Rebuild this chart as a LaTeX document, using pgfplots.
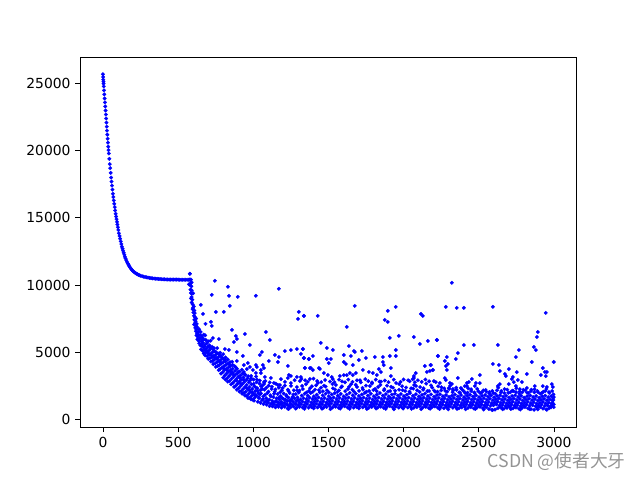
\documentclass[border=0pt]{standalone}
\usepackage{pgfplots}
\pgfplotsset{compat=1.18}
\usepackage{fontspec}
\setmainfont{DejaVu Sans}
\newfontfamily\cjk{Noto Sans CJK SC}
\definecolor{mplblue}{RGB}{0,0,255}
\begin{document}
\begin{tikzpicture}
\path[use as bounding box] (-60pt,-39.6pt) rectangle (420pt,320.4pt);
\begin{axis}[
  at={(0pt,0pt)}, anchor=south west,
  scale only axis, width=372pt, height=277.2pt,
  xmin=-153, xmax=3147, ymin=-597, ymax=26940,
  xtick={0,500,1000,1500,2000,2500,3000},
  ytick={0,5000,10000,15000,20000,25000},
  xtick pos=bottom, ytick pos=left, tick align=outside,
  major tick length=3.6pt,
  tick style={black,line width=0.6pt},
  axis line style={black,line width=0.6pt},
  scaled ticks=false,
  /pgf/number format/assume math mode=true,
  /pgf/number format/1000 sep={},
  tick label style={font=\fontsize{10.4}{12}\selectfont},
  xticklabel style={yshift=-0.5pt},
  clip=true,
]
\addplot[only marks, color=mplblue, mark=*, mark size=1.36pt, mark options={draw=mplblue,fill=mplblue,line width=0.2pt}] coordinates {
% decay curve
(0,25700)(1,25500)(2,25300)(3,25150)(4,25000)(5,24800)(7,24500)(9,24200)(11,23900)(13,23600)(15,23300)(17,23000)(19,22700)(21,22400)(23,22100)(25,21800)(27,21500)(29,21200)(31,20900)(33,20600)(35,20300)(37,20050)(39,19800)(42,19400)(45,19000)(48,18700)(51,18350)(54,18000)(57,17700)(60,17400)(63,17100)(66,16800)(69,16550)(72,16300)(75,16050)(78,15800)(81,15550)(84,15300)(87,15100)(90,14900)(93,14700)(96,14500)(99,14300)(102,14100)(106,13850)(110,13650)(114,13450)(118,13250)(122,13050)(126,12850)(130,12700)(134,12550)(138,12400)(142,12250)(146,12100)(150,11980)(155,11850)(160,11720)(165,11600)(170,11500)(175,11400)(180,11310)(185,11230)(190,11160)(195,11090)(200,11030)(207,10960)(214,10900)(221,10850)(228,10800)(235,10760)(242,10720)(250,10690)(260,10650)(270,10620)(280,10590)(290,10570)(300,10550)(310,10530)(320,10510)(330,10490)(340,10480)(350,10470)(360,10460)(370,10450)(380,10440)(390,10430)(400,10420)(410,10420)(420,10410)(430,10410)(440,10400)(450,10400)(460,10400)(470,10400)(480,10400)(490,10400)(500,10400)(510,10390)(520,10390)(530,10390)(540,10390)(550,10390)(560,10390)(570,10390)(575,10400)(580,10400)(585,10400)
% start of the descent
(578,10834)(572,10050)(580,10000)(585,10150)(590,10200)(588,9900)(582,9650)(590,9600)(585,9400)(592,9350)(600,9380)(590,9100)(585,9000)(595,8900)(590,8700)(597,8550)(600,8300)(604,8400)(596,8200)(608,8100)(602,7950)(610,7900)(605,7700)(612,7600)(608,7400)(616,7300)(620,7500)(612,7150)(606,7050)(618,6950)(624,7100)(614,6800)(622,6700)(628,6850)(618,6550)(626,6400)(632,6500)(622,6250)(630,6150)(636,6300)(628,5950)(636,5850)(644,6050)(652,6250)(640,6700)(650,6500)(660,6100)(670,6300)(680,6250)(655,5800)(665,5700)(672,5950)(684,5900)(640,5650)(648,5500)(658,5450)(668,5350)(678,5550)(690,5650)(700,5800)(652,5200)(662,5100)(674,5150)(686,5250)(696,5400)(708,5500)(716,5850)(670,4900)(682,4950)(692,5050)(704,5100)(715,5250)(726,5400)(738,5300)(680,4750)(694,4700)(706,4800)(718,4900)(730,5000)(745,5050)(760,5300)(700,4500)(712,4550)(724,4600)(736,4700)(750,4800)(765,4900)(780,4950)(718,4300)(730,4350)(742,4450)(756,4550)(770,4650)(785,4700)(800,4850)(734,4100)(746,4150)(758,4250)(772,4350)(786,4450)(800,4500)(815,4600)(750,3900)(762,3950)(775,4050)(788,4150)(802,4250)(816,4300)(830,4450)(770,3650)(780,3750)(792,3850)(805,3950)(818,4050)(832,4150)(845,4250)(785,3400)(796,3500)(808,3650)(820,3750)(834,3850)(848,3950)(862,4050)(800,3100)(810,3250)(822,3400)(835,3550)(848,3650)(862,3750)(876,3950)(815,2950)(826,3050)(838,3200)(850,3350)(864,3450)(878,3600)(892,3750)(830,2800)(842,2850)(855,3000)(868,3150)(880,3300)(894,3400)(908,3550)(852,2600)(864,2700)(876,2850)(888,3000)(900,3150)(914,3250)(928,3400)(872,2400)(884,2500)(896,2650)(908,2800)(920,2950)(934,3100)(948,3300)(890,2200)(902,2300)(914,2450)(926,2600)(938,2750)(952,2900)(966,3200)(908,2050)(920,2100)(932,2250)(944,2400)(956,2550)(970,2750)(985,3050)(926,1900)(938,1950)(950,2050)(962,2250)(974,2400)(988,2600)(1002,2950)(945,1750)(957,1750)(969,1900)(981,2050)(993,2250)(1007,2450)(1022,2750)(965,1580)(977,1600)(989,1750)(1001,1900)(1013,2100)(1027,2300)(1042,2650)(985,1480)(997,1460)(1009,1600)(1021,1750)(1033,1950)(1047,2150)(1060,2500)
% irregular fill of the descent
(643,5980)(659,5620)(676,5410)(663,5930)(688,5120)(699,4930)(711,5320)(722,4760)(733,5180)(741,4620)(753,4980)(761,4480)(774,4820)(783,4240)(791,4610)(803,3780)(812,4420)(827,3630)(841,4080)(853,3520)(859,4280)(871,3280)(883,3870)(889,2880)(899,3510)(911,3090)(917,2640)(924,3680)(936,2930)(943,3330)(955,2330)(961,3040)(972,2190)(978,2880)(986,3220)(994,1980)(1003,2640)(1011,1830)(1019,3180)(1028,2120)(1037,1640)(1043,2880)(1051,1920)(1059,2260)(1064,1490)(1072,2620)(1079,1820)(1087,2340)(1093,1360)(1101,2060)(1109,2740)(1117,1690)(1124,2420)(1131,1210)(1139,1900)(1147,2220)(1155,1340)(1163,2560)(1171,1620)(1179,2010)(1187,1180)(1195,2330)(1203,1490)(1211,2780)(1219,1790)(1227,1070)(1235,2090)(1243,1380)(1251,2480)(1259,1560)(1267,1840)(1275,2910)(1283,1130)(1291,2140)(1299,1430)
% dense band, 1000 to 3000
(1005,1380)(1012,1750)(1018,2350)(1024,2950)(1030,1300)(1038,1550)(1044,1850)(1052,2450)(1048,1220)(1058,1420)(1066,1700)(1074,2200)(1080,2850)(1068,1130)(1078,1300)(1086,1560)(1094,1950)(1102,2500)(1088,1080)(1098,1230)(1106,1450)(1114,1780)(1122,2250)(1108,980)(1118,1150)(1126,1370)(1134,1650)(1142,2050)(1150,2650)(1128,960)(1138,1100)(1146,1300)(1154,1550)(1162,1880)(1170,2350)(1148,880)(1158,1050)(1166,1240)(1174,1480)(1182,1720)(1190,2150)(1168,920)(1178,1090)(1186,1310)(1194,1560)(1202,1920)(1210,2500)(1188,860)(1198,1020)(1206,1220)(1214,1450)(1222,1700)(1230,2200)(1208,930)(1218,1120)(1226,1340)(1234,1600)(1242,1950)(1250,2700)(1228,800)(1238,1000)(1246,1200)(1254,1430)(1262,1680)(1270,2150)(1248,890)(1258,1080)(1266,1290)(1274,1550)(1282,1870)(1290,2400)(1268,950)(1278,1150)(1286,1360)(1294,1620)(1302,1980)(1310,2850)(1288,850)(1298,1040)(1306,1240)(1314,1480)(1322,1760)(1330,2250)(1308,920)(1318,1110)(1326,1320)(1334,1570)(1342,1900)(1350,2600)(1328,870)(1338,1060)(1346,1260)(1354,1500)(1362,1750)(1370,2100)(1348,940)(1358,1130)(1366,1350)(1374,1600)(1382,1950)(1390,2450)(1368,850)(1378,1040)(1386,1250)(1394,1490)(1402,1700)(1410,2200)(1388,900)(1398,1100)(1406,1310)(1414,1540)(1422,1820)(1430,2700)(1408,960)(1418,1150)(1426,1370)(1434,1620)(1442,2000)(1450,2350)(1428,880)(1438,1070)(1446,1270)(1454,1510)(1462,1780)(1470,2500)(1448,930)(1458,1120)(1466,1330)(1474,1580)(1482,1900)(1490,2150)(1468,860)(1478,1040)(1486,1240)(1494,1470)(1502,1720)(1510,2800)(1488,910)(1498,1110)(1506,1320)(1514,1560)(1522,1850)(1530,2300)(1508,980)(1518,1170)(1526,1380)(1534,1620)(1542,1950)(1550,2550)(1528,870)(1538,1060)(1546,1260)(1554,1500)(1562,1750)(1570,2150)(1548,930)(1558,1120)(1566,1330)(1574,1590)(1582,1880)(1590,2450)(1568,850)(1578,1040)(1586,1250)(1594,1480)(1602,1700)(1610,2750)(1588,910)(1598,1100)(1606,1310)(1614,1560)(1622,1830)(1630,2250)(1608,960)(1618,1150)(1626,1360)(1634,1610)(1642,1960)(1650,2600)(1628,870)(1638,1060)(1646,1270)(1654,1510)(1662,1780)(1670,2050)(1648,930)(1658,1130)(1666,1340)(1674,1590)(1682,1900)(1690,2400)(1668,860)(1678,1040)(1686,1240)(1694,1480)(1702,1730)(1710,2900)(1688,900)(1698,1100)(1706,1310)(1714,1550)(1722,1840)(1730,2200)(1708,970)(1718,1160)(1726,1370)(1734,1620)(1742,1960)(1750,2500)(1728,880)(1738,1070)(1746,1270)(1754,1510)(1762,1760)(1770,2100)(1748,930)(1758,1120)(1766,1330)(1774,1580)(1782,1890)(1790,2650)(1768,850)(1778,1040)(1786,1240)(1794,1470)(1802,1710)(1810,2250)(1788,910)(1798,1100)(1806,1310)(1814,1560)(1822,1830)(1830,2400)(1808,960)(1818,1150)(1826,1370)(1834,1610)(1842,1950)(1850,2800)(1828,870)(1838,1060)(1846,1260)(1854,1500)(1862,1760)(1870,2150)(1848,930)(1858,1120)(1866,1330)(1874,1590)(1882,1880)(1890,2500)(1868,850)(1878,1040)(1886,1250)(1894,1480)(1902,1700)(1910,2100)(1888,910)(1898,1100)(1906,1310)(1914,1550)(1922,1840)(1930,2350)(1908,970)(1918,1160)(1926,1370)(1934,1620)(1942,1900)(1950,2700)(1928,880)(1938,1070)(1946,1270)(1954,1510)(1962,1760)(1970,2200)(1948,930)(1958,1120)(1966,1340)(1974,1590)(1982,1880)(1990,2450)(1968,860)(1978,1040)(1986,1250)(1994,1480)(2002,1720)(2010,2100)(1988,900)(1998,1100)(2006,1310)(2014,1560)(2022,1830)(2030,2900)(2008,950)(2018,1150)(2026,1360)(2034,1610)(2042,1940)(2050,2300)(2028,870)(2038,1060)(2046,1260)(2054,1500)(2062,1750)(2070,2550)(2048,920)(2058,1120)(2066,1330)(2074,1580)(2082,1860)(2090,2150)(2068,850)(2078,1030)(2086,1240)(2094,1470)(2102,1700)(2110,2400)(2088,900)(2098,1090)(2106,1300)(2114,1540)(2122,1810)(2130,2200)(2108,960)(2118,1150)(2126,1360)(2134,1600)(2142,1900)(2150,2650)(2128,870)(2138,1060)(2146,1260)(2154,1490)(2162,1730)(2170,2100)(2148,920)(2158,1110)(2166,1320)(2174,1570)(2182,1850)(2190,2350)(2168,830)(2178,1030)(2186,1230)(2194,1460)(2202,1680)(2210,2050)(2188,890)(2198,1080)(2206,1290)(2214,1530)(2222,1790)(2230,2450)(2208,950)(2218,1140)(2226,1350)(2234,1590)(2242,1860)(2250,2150)(2228,860)(2238,1050)(2246,1250)(2254,1480)(2262,1710)(2270,2300)(2248,910)(2258,1100)(2266,1310)(2274,1550)(2282,1800)(2290,2050)(2268,820)(2278,1020)(2286,1220)(2294,1440)(2302,1660)(2310,2500)(2288,880)(2298,1070)(2306,1280)(2314,1510)(2322,1760)(2330,2150)(2308,940)(2318,1130)(2326,1340)(2334,1580)(2342,1830)(2350,2350)(2328,850)(2338,1040)(2346,1240)(2354,1470)(2362,1700)(2370,2000)(2348,900)(2358,1090)(2366,1300)(2374,1540)(2382,1790)(2390,2200)(2368,810)(2378,1010)(2386,1210)(2394,1430)(2402,1650)(2410,1950)(2388,870)(2398,1060)(2406,1270)(2414,1500)(2422,1750)(2430,2300)(2408,930)(2418,1120)(2426,1330)(2434,1570)(2442,1820)(2450,2100)(2428,840)(2438,1030)(2446,1230)(2454,1460)(2462,1690)(2470,2000)(2448,890)(2458,1080)(2466,1290)(2474,1530)(2482,1780)(2490,2250)(2468,800)(2478,1000)(2486,1200)(2494,1420)(2502,1640)(2510,1950)(2488,860)(2498,1050)(2506,1260)(2514,1490)(2522,1740)(2530,2150)(2508,920)(2518,1110)(2526,1320)(2534,1560)(2542,1800)(2550,2050)(2528,830)(2538,1020)(2546,1220)(2554,1450)(2562,1680)(2570,1900)(2548,880)(2558,1070)(2566,1280)(2574,1520)(2582,1760)(2590,2100)(2568,760)(2578,990)(2586,1190)(2594,1410)(2602,1630)(2610,1900)(2588,700)(2598,1040)(2606,1250)(2614,1480)(2622,1730)(2630,2350)(2608,720)(2618,1100)(2626,1310)(2634,1550)(2642,1790)(2650,2100)(2628,820)(2638,1010)(2646,1210)(2654,1440)(2662,1670)(2670,1950)(2648,870)(2658,1060)(2666,1270)(2674,1510)(2682,1750)(2690,2200)(2668,790)(2678,980)(2686,1180)(2694,1400)(2702,1620)(2710,2000)(2688,850)(2698,1030)(2706,1240)(2714,1470)(2722,1720)(2730,2100)(2708,910)(2718,1090)(2726,1300)(2734,1540)(2742,1780)(2750,2300)(2728,810)(2738,1000)(2746,1200)(2754,1430)(2762,1660)(2770,1900)(2748,860)(2758,1050)(2766,1260)(2774,1500)(2782,1740)(2790,2000)(2768,780)(2778,970)(2786,1170)(2794,1390)(2802,1610)(2810,2150)(2788,840)(2798,1020)(2806,1230)(2814,1460)(2822,1710)(2830,1950)(2808,900)(2818,1080)(2826,1290)(2834,1530)(2842,1770)(2850,2200)(2828,800)(2838,990)(2846,1190)(2854,1420)(2862,1650)(2870,2000)(2848,750)(2858,1040)(2866,1250)(2874,1490)(2882,1730)(2890,2100)(2868,700)(2878,960)(2886,1160)(2894,1380)(2902,1600)(2910,1900)(2888,830)(2898,1010)(2906,1220)(2914,1450)(2922,1700)(2930,2050)(2908,890)(2918,1070)(2926,1280)(2934,1520)(2942,1760)(2950,2250)(2928,790)(2938,980)(2946,1180)(2954,1410)(2962,1640)(2970,1950)(2948,740)(2958,1030)(2966,1240)(2974,1480)(2982,1720)(2988,2100)(2968,820)(2976,950)(2984,1150)(2990,1370)(2994,1590)(2997,1850)(2980,880)(2988,1000)(2992,1200)(2996,1430)(2999,1650)(2999,1100)(2999,900)
% scattered points above the band
(578,10834)(744,10311)(831,9863)(1170,9713)(724,9265)(838,9191)(897,9116)(1017,9191)(651,8518)(844,8444)(665,7846)(751,7995)(804,7995)(1303,7995)(1297,7472)(1337,7697)(718,7249)(724,6950)(682,7099)(858,6651)(884,6203)(891,5979)(944,6352)(871,5754)(1084,6501)(1110,5904)(977,5530)(771,5979)(731,6053)(811,5232)(838,5157)(891,5007)(931,4709)(1057,5007)(1044,4783)(1144,4783)(1170,4634)(1210,5082)(1250,5157)(1290,5232)(1330,5232)(1317,4858)(1337,4559)(1370,4484)(1104,4335)(1164,4261)(964,4186)(891,4335)(1230,3962)(1343,3812)(1376,3812)(937,4036)(977,3887)(1017,4036)(1024,3887)(1064,4036)(1071,3812)(1051,3663)(997,3663)(957,3737)(937,3513)(1017,3439)(1051,3439)(1237,3289)(1250,3215)(1290,3140)(1317,3140)(1376,2990)(1184,2990)(1230,3065)(1117,3065)(1077,3140)(1071,2766)(1137,2692)(1177,2542)
(1336,7696)(1429,7696)(1675,8444)(1895,8070)(1948,8369)(1875,7398)(1895,7248)(2115,7846)(2128,7696)(1622,6875)(1908,6053)(1968,6203)(2068,6128)(2161,5829)(2108,5605)(2221,5904)(1449,5680)(1489,5306)(1529,5157)(1330,5232)(1636,5456)(1669,5082)(1676,5007)(1722,5082)(1602,4783)(1649,4708)(1809,4634)(1862,4634)(1908,4708)(1948,5157)(1948,4708)(2228,4708)(1336,4559)(1369,4484)(1396,4708)(1489,4484)(1516,4484)(1502,4186)(1602,4261)(1616,4111)(1702,4410)(1749,4559)(1862,4261)(1868,4036)(2141,3962)(2181,4036)(1662,4036)(1343,3812)(1383,3812)(1396,3663)(1436,3812)(1443,3738)(1729,3663)(1835,3738)(1849,3513)(1915,3812)(2155,3513)(2175,3588)(2195,3663)(1469,3439)(1496,3289)(1642,3439)(1602,3289)(1622,3289)(1576,3215)(1662,3289)(1682,3439)(1769,3513)(1795,3439)(1822,3289)(1915,3215)(2068,3215)(2081,3439)(2068,3065)(1522,3140)(1529,2990)
(1320,3000)(1345,2900)(1362,2780)(1400,3020)(1425,2850)(1452,2760)(1478,2920)(1540,2760)(1570,2950)(1590,2820)(1632,2950)(1660,2780)(1690,2900)(1715,2750)(1745,2980)(1765,2830)(1790,2740)(1815,2950)(1840,2800)(1875,2880)(1900,2760)(1935,2950)(1980,2780)(2000,2960)(2040,2830)(2075,2750)(2095,2900)(2120,2780)(2145,2960)(2170,2820)(2060,2980)
(2321,10162)(2281,8369)(2354,8294)(2401,8294)(2594,8369)(2946,7921)(2893,6501)(2887,6128)(2221,5904)(2401,5530)(2467,5530)(2627,5530)(2767,5157)(2867,5381)(2880,5157)(2361,4933)(2228,4708)(2348,4484)(2288,4634)(2274,4335)(2294,4111)(2281,3962)(2179,4036)(2747,4634)(2594,4111)(2634,4036)(2853,4261)(2999,4261)(2288,3663)(2195,3663)(2640,3588)(2700,3738)(2926,3812)(2753,3513)(2674,3364)(2680,3215)(2820,3364)(2913,3289)(2940,3513)(2953,3513)(2946,3215)(2507,3289)(2727,3140)(2274,3065)(2281,2916)(2361,3065)(2454,2990)(2760,2916)(2720,2990)(2434,2766)(2421,2692)(2201,2841)(2214,2766)(2241,2692)(2308,2692)(2321,2617)(2787,2766)(2481,2692)(2507,2692)(2700,2617)(2733,2766)(2640,2617)(2627,2467)(2986,2617)(2993,2393)(2926,2467)(2953,2393)(2873,2467)(2407,2467)(2421,2467)(2474,2467)(2381,2318)(2328,2243)(2301,2318)(2747,2467)(2773,2243)(2820,2318)
% irregular points breaking up the band's top
(1307,2130)(1325,2480)(1353,1990)(1378,2310)(1396,2040)(1418,2520)(1437,2170)(1463,2080)(1481,2430)(1503,2010)(1527,2610)(1544,2220)(1561,2040)(1585,2380)(1612,2090)(1638,2420)(1659,2200)(1681,2570)(1703,2110)(1727,2330)(1752,2040)(1776,2470)(1799,2180)(1821,2090)(1846,2550)(1872,2240)(1897,2060)(1917,2410)(1944,2120)(1971,2620)(1993,2170)(2017,2360)(2039,2050)(2064,2280)(2083,2480)(2107,2030)(2133,2310)(2158,2090)(2182,2520)(2203,2140)(2226,2050)(2252,2380)(2277,2110)(2303,2260)(2326,2010)(2352,2190)(2377,1960)(2399,2100)(2425,1980)(2449,2230)(2473,1950)(2497,2080)(2521,1990)(2546,2180)(2571,2020)(2596,1940)(2621,2150)(2647,1990)(2672,2240)(2696,1960)(2723,2120)(2748,2010)(2772,2060)(2797,2190)(2821,1980)(2847,2080)(2871,2230)(2896,2000)(2921,1960)(2944,2110)(2967,2020)
% low points along the band's bottom edge
(1235,760)(1283,790)(1341,770)(1402,800)(1457,780)(1513,750)(1579,790)(1641,770)(1703,800)(1756,760)(1817,790)(1881,770)(1936,740)(1997,790)(2053,770)(2117,750)(2176,780)(2239,760)(2297,730)(2356,770)(2413,740)(2477,760)(2533,720)(2592,680)(2659,740)(2713,760)(2777,720)(2839,750)(2893,730)(2953,700)
};
\end{axis}
\node[anchor=center, text=black!42, inner sep=0pt, font=\cjk\fontsize{13.3}{15}\selectfont] at (357.5pt,-26pt) {CSDN @使者大牙};
\end{tikzpicture}
\end{document}
